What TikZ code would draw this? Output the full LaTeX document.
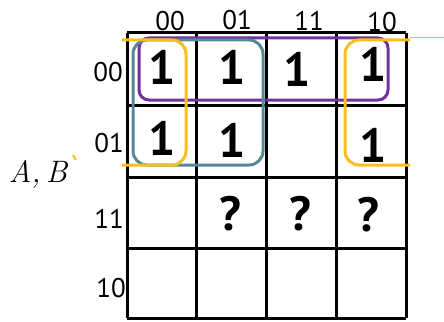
\documentclass[tikz,border=0pt]{standalone}
\usepackage{fontspec}
\setsansfont{PT Sans}
\definecolor{kpurple}{RGB}{112,48,160}
\definecolor{kteal}{RGB}{84,138,150}
\definecolor{kyellow}{RGB}{248,190,30}
\begin{document}
\begin{tikzpicture}[x=1pt,y=-1pt,
  gridline/.style={line width=3pt,black},
  lab/.style={font=\sffamily\fontsize{27}{29}\selectfont,inner sep=0pt},
  val/.style={font=\sffamily\fontsize{48}{50}\selectfont\bfseries,inner sep=0pt},
  grp/.style={line width=3pt}]
\useasboundingbox (0,0) rectangle (444,321);
% grid
\foreach \x in {127,196,266,336,406} \draw[gridline] (\x,33) -- (\x,318);
\foreach \y in {33,105,177,248,318} \draw[gridline] (127,\y) -- (406,\y);
% column labels
\node[lab] (c00) at (170,21) {00};
\node[lab] (c01) at (237,20) {01};
\node[lab] (c11) at (309,21) {11};
\node[lab] (c10) at (382,22) {10};
% row labels
\node[lab] (r00) at (108,72) {00};
\node[lab] (r01) at (109,143) {01};
\node[lab] (r11) at (109,219) {11};
\node[lab] (r10) at (111,288) {10};
\node[font=\rmfamily\itshape\fontsize{31}{33}\selectfont,inner sep=0pt,anchor=base] (ab) at (38,182) {A,\,B};
% values
\node[val] (v1) at (162,67) {1};
\node[val] (v2) at (232,67) {1};
\node[val] (v3) at (297,69) {1};
\node[val] (v4) at (373,64) {1};
\node[val] (v5) at (162,138) {1};
\node[val] (v6) at (232,140) {1};
\node[val] (v7) at (373,145) {1};
\node[val] (q1) at (230,214) {?};
\node[val] (q2) at (300,214) {?};
\node[val] (q3) at (368,215) {?};
% groups
\draw[grp,kpurple,rounded corners=10pt] (139,38) rectangle (388,100);
\draw[grp,kteal,rounded corners=14pt] (133,40) rectangle (263,165);
\draw[grp,kyellow,rounded corners=14pt] (122,40) -- (186,40) -- (186,165) -- (122,165);
\draw[grp,kyellow,rounded corners=14pt] (410,40) -- (345,40) -- (345,165) -- (410,165);
\draw[kyellow,line width=1pt] (410,38) -- (444,38);
\draw[kyellow,line width=2pt] (73,155) -- (76,160);
\end{tikzpicture}
\end{document}
